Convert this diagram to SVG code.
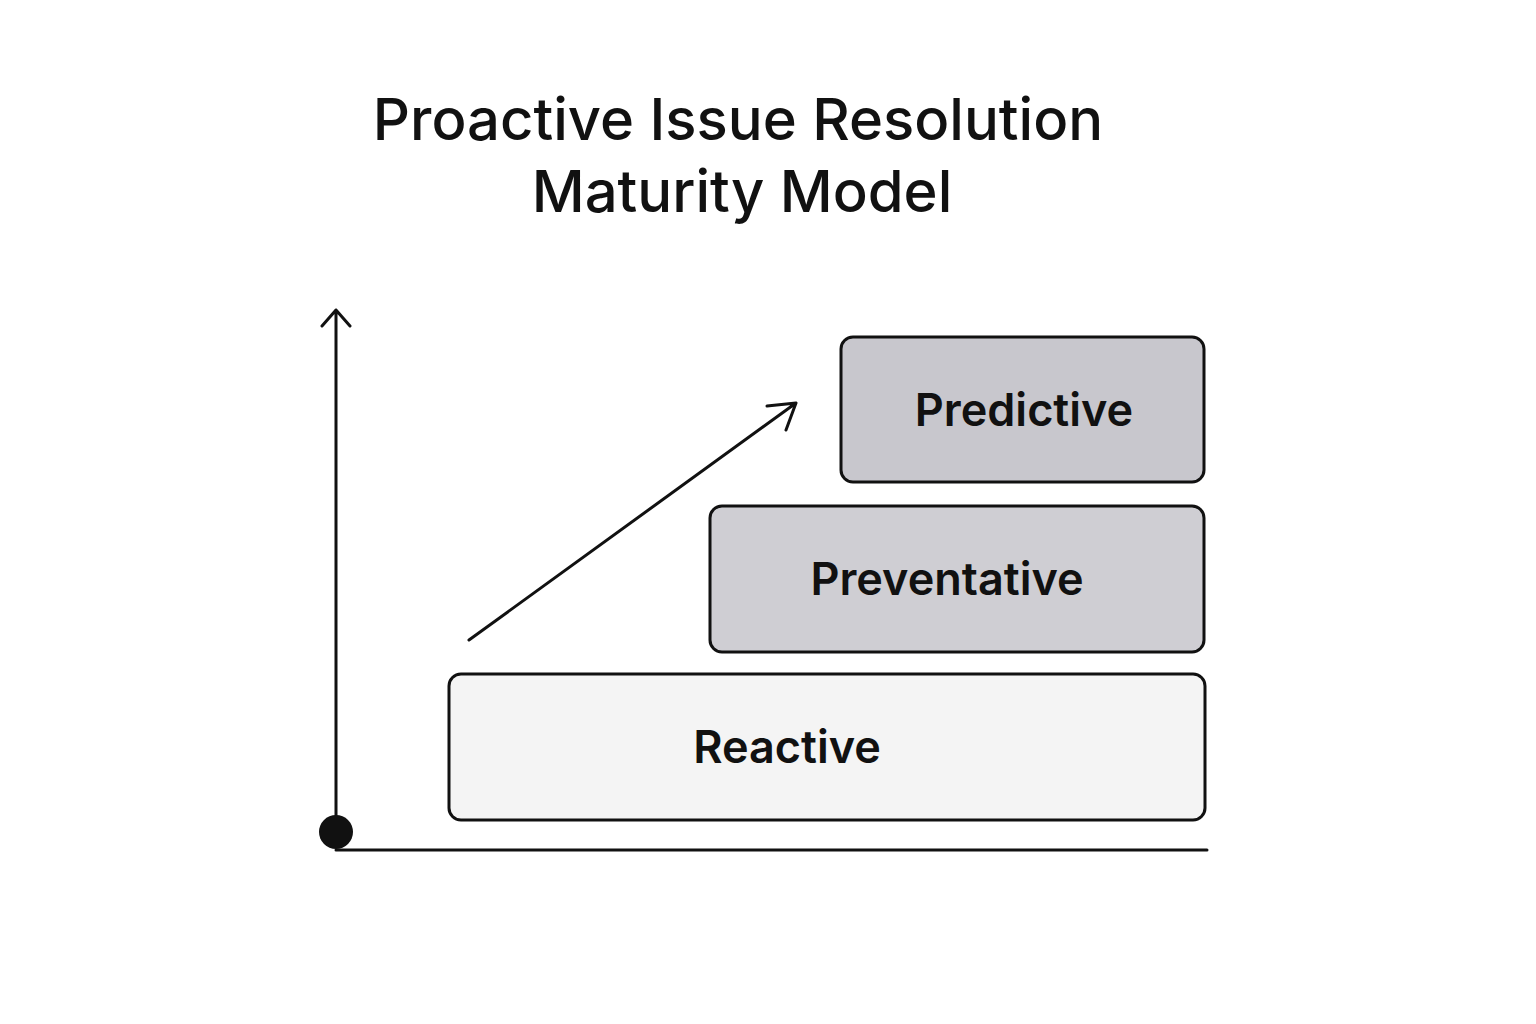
<svg xmlns="http://www.w3.org/2000/svg" width="1536" height="1024" viewBox="0 0 1536 1024">
<style>
.t{font-family:"Inter","Liberation Sans",sans-serif;fill:#111;text-anchor:middle}
.box{stroke:#111;stroke-width:3}
.lbl{font-family:"Inter","Liberation Sans",sans-serif;font-size:45px;font-weight:600;fill:#111;text-anchor:middle}
.ln{stroke:#111;stroke-width:3;fill:none;stroke-linecap:round;stroke-linejoin:round}
</style>
<rect width="1536" height="1024" fill="#fff"/>
<g id="title">
<text class="t" x="738" y="140" font-size="58" font-weight="500">Proactive Issue Resolution</text>
<text class="t" x="742" y="212" font-size="58" font-weight="500">Maturity Model</text>
</g>
<g id="connectors">
<path class="ln" d="M336 832 V310 M322 326 L336 310 L350 326"/>
<circle cx="336" cy="832" r="17" fill="#111"/>
<path class="ln" d="M336 850 H1207"/>
<path class="ln" d="M469 640 L796 403 M767 406 L796 403 L786 430"/>
</g>
<g id="reactive">
<rect class="box" x="449" y="674" width="756" height="146" rx="12" fill="#f4f4f4"/>
<text class="lbl" x="787" y="763">Reactive</text>
</g>
<g id="preventative">
<rect class="box" x="710" y="506" width="494" height="146" rx="12" fill="#cfced3"/>
<text class="lbl" x="947" y="595">Preventative</text>
</g>
<g id="predictive">
<rect class="box" x="841" y="337" width="363" height="145" rx="12" fill="#c8c7cd"/>
<text class="lbl" x="1024" y="426">Predictive</text>
</g>
</svg>
